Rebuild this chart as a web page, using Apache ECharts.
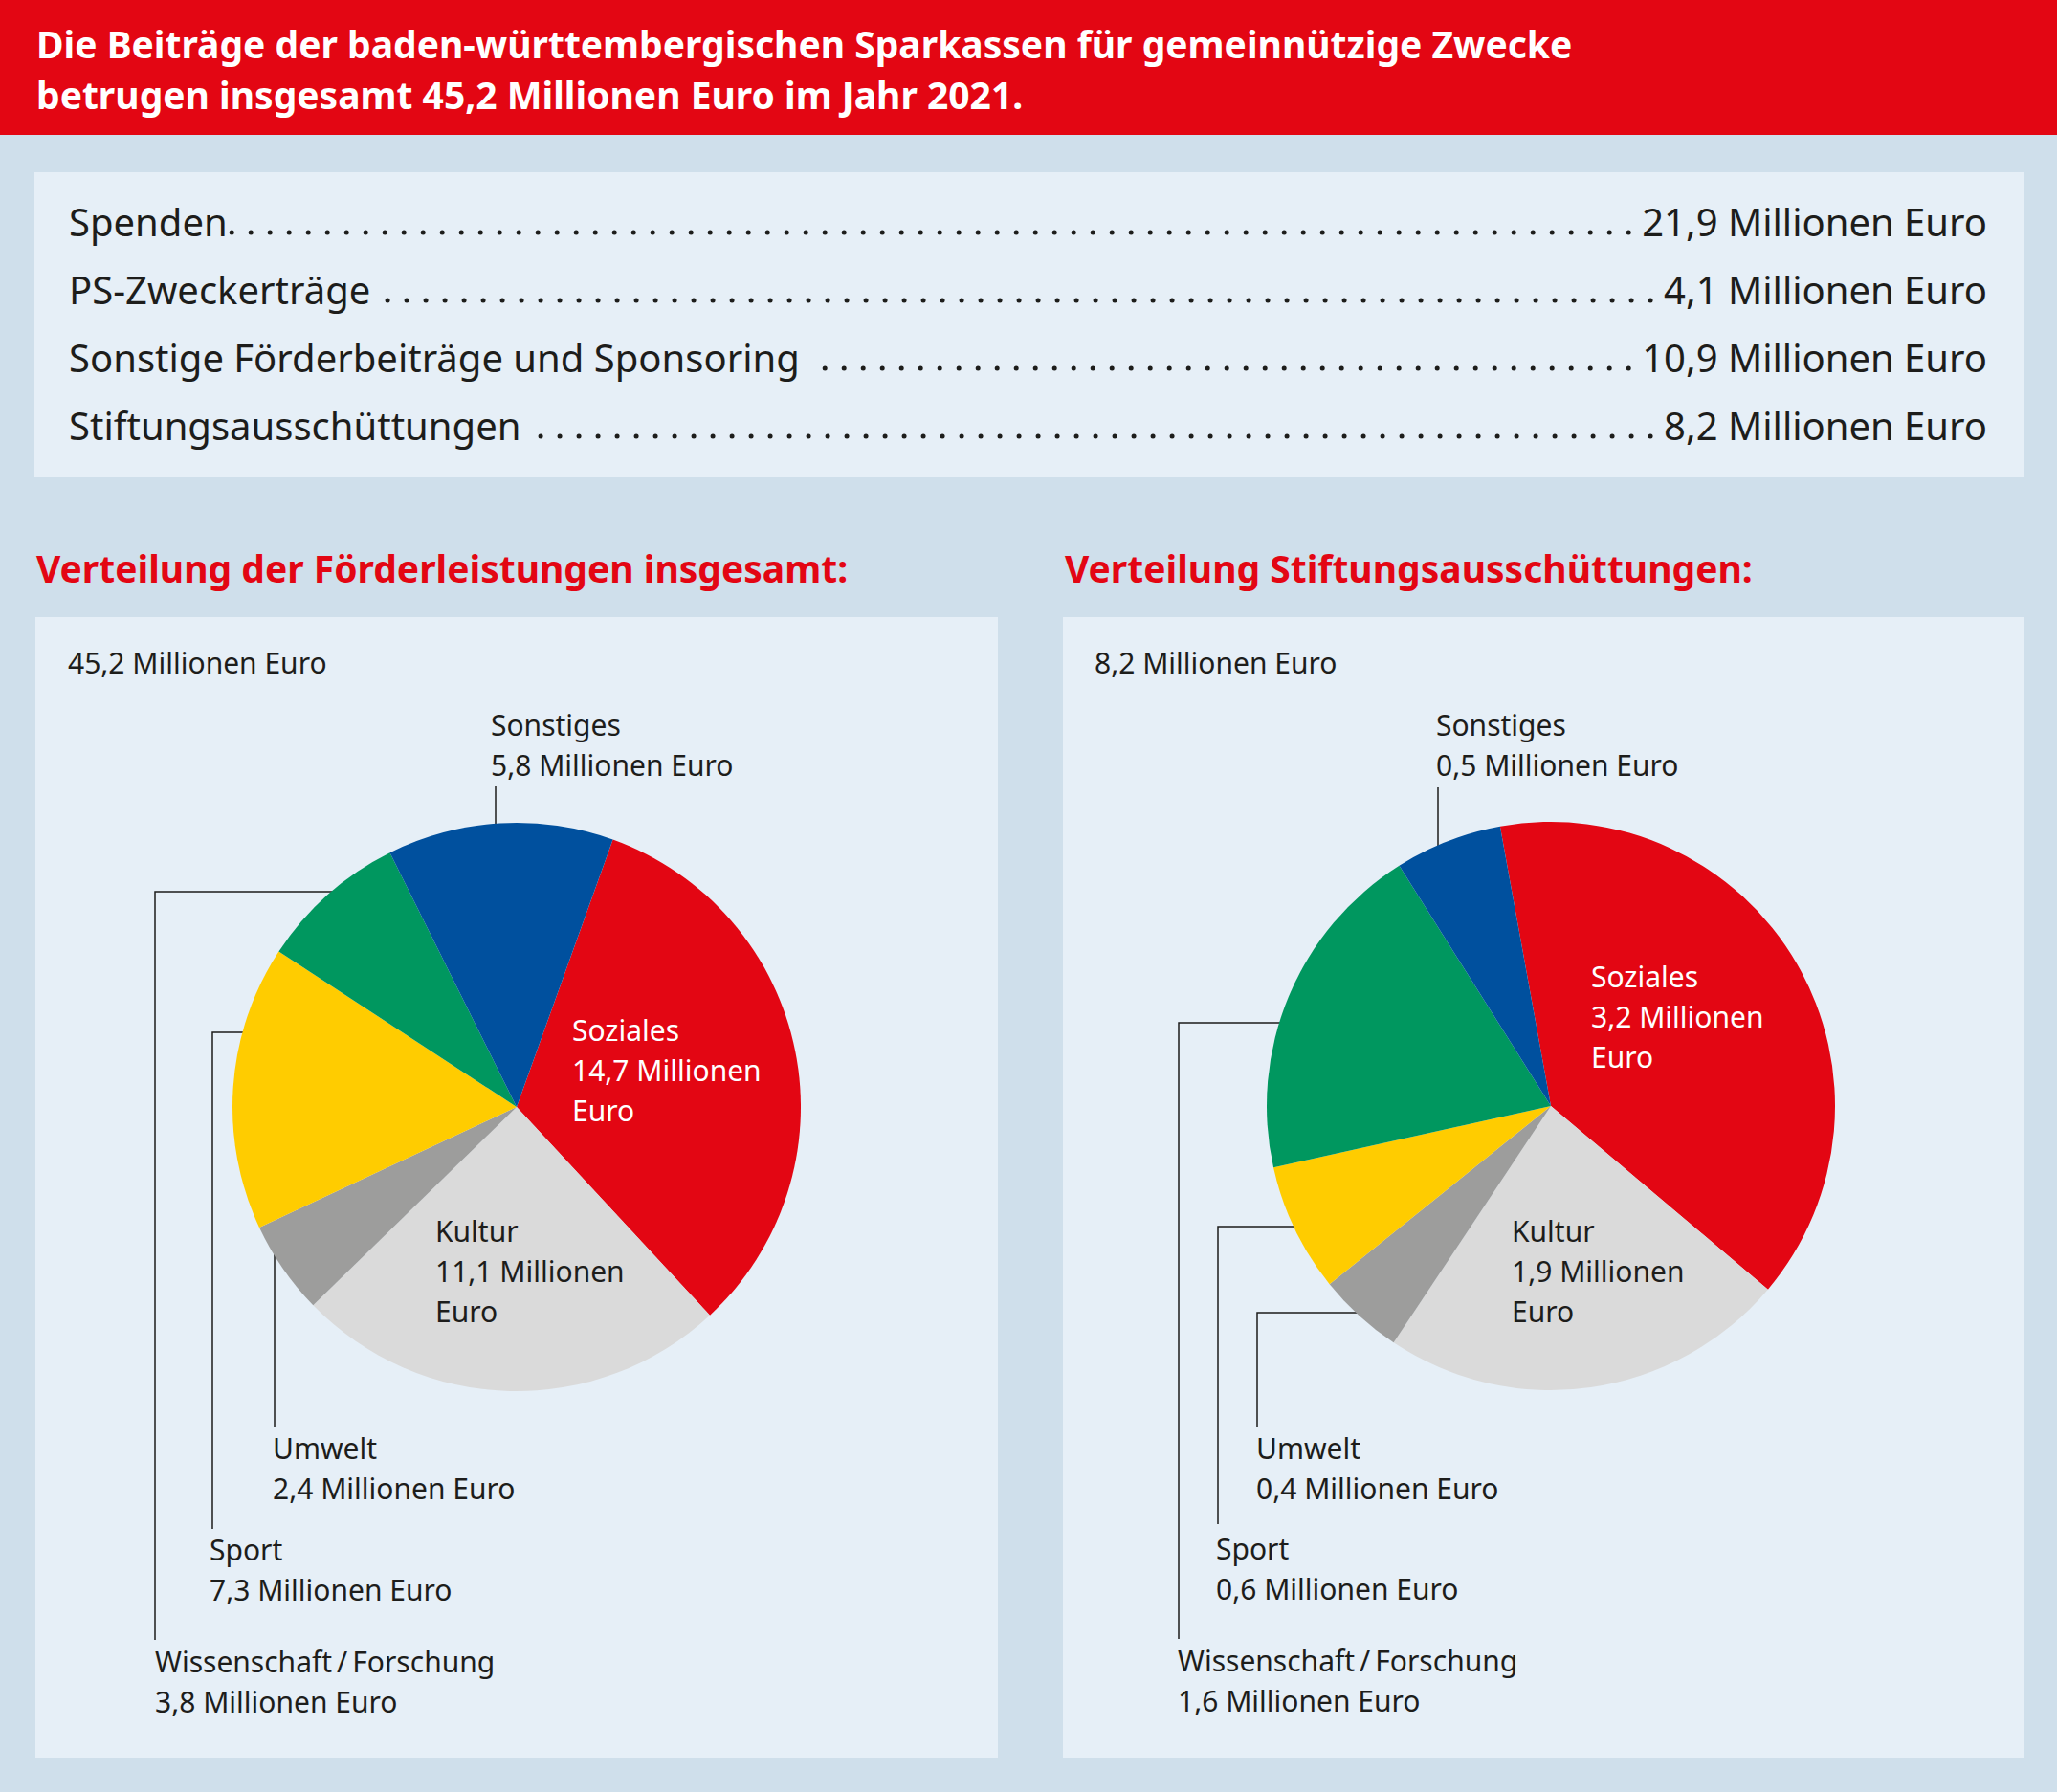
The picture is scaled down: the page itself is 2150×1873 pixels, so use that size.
<!DOCTYPE html>
<html>
<head>
<meta charset="utf-8">
<script src="https://cdn.jsdelivr.net/npm/echarts@6/dist/echarts.min.js"></script>
<style>
html,body{margin:0;padding:0;background:#cfdfeb;}
#chart{width:2150px;height:1873px;}
</style>
</head>
<body>
<div id="chart"></div>
<script>
// ---- data ----
const titleLines = [
  'Die Beiträge der baden-württembergischen Sparkassen für gemeinnützige Zwecke',
  'betrugen insgesamt 45,2 Millionen Euro im Jahr 2021.'
];
const beitragLabels = ['Spenden', 'PS-Zweckerträge', 'Sonstige Förderbeiträge und Sponsoring', 'Stiftungsausschüttungen'];
const beitragValues = [21.9, 4.1, 10.9, 8.2];
const sectionTitles = ['Verteilung der Förderleistungen insgesamt:', 'Verteilung Stiftungsausschüttungen:'];
const categories = ['Soziales', 'Kultur', 'Umwelt', 'Sport', 'Wissenschaft\u2009/\u2009Forschung', 'Sonstiges'];
const totalValues = [14.7, 11.1, 2.4, 7.3, 3.8, 5.8];
const stiftungValues = [3.2, 1.9, 0.4, 0.6, 1.6, 0.5];
const pieTotals = [45.2, 8.2];
const unit = 'Millionen Euro';

// ---- styles / layout ----
const FONT = "'Noto Sans', 'Open Sans', sans-serif";
const DARK = '#1d1d1b';
const RED = '#e30613';
const sliceColors = ['#e30613', '#dadada', '#9d9d9c', '#ffcc00', '#00975f', '#00509e'];
const insideIdx = [0, 1];
const fmt = v => v.toFixed(1).replace('.', ',');

const pieGeom = [
  {center: [540, 1157], radius: 297, startAngle: 70.2},
  {center: [1621, 1156], radius: 297, startAngle: 100.3}
];
// label anchor (left x, first-line center y) and leader lines
const labelPos = [
  [
    {x: 598, y: 1076},
    {x: 455, y: 1286},
    {x: 285, y: 1513, line: [[314, 1297], [287, 1297], [287, 1492]]},
    {x: 219, y: 1619, line: [[277, 1079], [222, 1079], [222, 1598]]},
    {x: 162, y: 1736, line: [[370, 932], [162, 932], [162, 1714]]},
    {x: 513, y: 757, line: [[518, 878], [518, 850], [518, 822]]}
  ],
  [
    {x: 1663, y: 1020},
    {x: 1580, y: 1286},
    {x: 1313, y: 1513, line: [[1440, 1372], [1314, 1372], [1314, 1491]]},
    {x: 1271, y: 1618, line: [[1378, 1282], [1273, 1282], [1273, 1593]]},
    {x: 1231, y: 1735, line: [[1364, 1069], [1232, 1069], [1232, 1713]]},
    {x: 1501, y: 757, line: [[1503, 908], [1503, 865], [1503, 823]]}
  ]
];
const LH = 42;

const chart = echarts.init(document.getElementById('chart'), null, {renderer: 'svg'});

// measure text
const mctx = document.createElement('canvas').getContext('2d');
function measure(text, font) { mctx.font = font; return mctx.measureText(text).width; }

const graphics = [];
// header
graphics.push({type: 'rect', z: 0, shape: {x: 0, y: 0, width: 2150, height: 141}, style: {fill: RED}});
titleLines.forEach((t, i) => graphics.push({
  type: 'text', z: 10, x: 38, y: 45 + i * 53,
  style: {text: t, fill: '#fff', font: 'bold 39px ' + FONT, textVerticalAlign: 'middle', textAlign: 'left'}
}));
// panels
graphics.push({type: 'rect', z: 0, shape: {x: 36, y: 180, width: 2079, height: 319}, style: {fill: '#e6eff7'}});
graphics.push({type: 'rect', z: 0, shape: {x: 37, y: 645, width: 1006, height: 1192}, style: {fill: '#e6eff7'}});
graphics.push({type: 'rect', z: 0, shape: {x: 1111, y: 645, width: 1004, height: 1192}, style: {fill: '#e6eff7'}});

// contribution list
const rowY = [231, 302, 373, 444];
const rowGap = [4, 14, 14, 4];
const rowFont = '40px ' + FONT;
beitragLabels.forEach((lab, i) => {
  const valText = fmt(beitragValues[i]) + ' ' + unit;
  graphics.push({type: 'text', z: 10, x: 72, y: rowY[i],
    style: {text: lab, fill: DARK, font: rowFont, textVerticalAlign: 'middle', textAlign: 'left'}});
  graphics.push({type: 'text', z: 10, x: 2077, y: rowY[i],
    style: {text: valText, fill: DARK, font: rowFont, textVerticalAlign: 'middle', textAlign: 'right'}});
  const x1 = 72 + measure(lab, rowFont) + rowGap[i];
  const x2 = 2077 - measure(valText, rowFont) - 14;
  const n = Math.floor((x2 - x1) / 20);
  const xs = x2 - n * 20;
  graphics.push({type: 'line', z: 10,
    shape: {x1: xs, y1: rowY[i] + 12, x2: x2 + 1, y2: rowY[i] + 12},
    style: {stroke: DARK, lineWidth: 5, lineCap: 'round', lineDash: [0.01, 19.99]}});
});

// section titles
[38, 1113].forEach((x, i) => graphics.push({type: 'text', z: 10, x: x, y: 593,
  style: {text: sectionTitles[i], fill: RED, font: 'bold 39px ' + FONT, textVerticalAlign: 'middle', textAlign: 'left'}}));
// pie totals
[71, 1144].forEach((x, i) => graphics.push({type: 'text', z: 10, x: x, y: 692,
  style: {text: fmt(pieTotals[i]) + ' ' + unit, fill: DARK, font: '30px ' + FONT, textVerticalAlign: 'middle', textAlign: 'left'}}));

function pieSeries(values, k) {
  return {
    type: 'pie',
    center: pieGeom[k].center,
    radius: pieGeom[k].radius,
    startAngle: pieGeom[k].startAngle,
    clockwise: true,
    avoidLabelOverlap: false,
    silent: true,
    animation: false,
    itemStyle: {borderWidth: 0},
    emphasis: {disabled: true},
    label: {
      show: true, position: 'outside', fontFamily: FONT, fontSize: 30, lineHeight: LH, color: DARK,
      formatter: p => insideIdx.includes(p.dataIndex)
        ? p.name + '\n' + fmt(p.value) + ' Millionen\nEuro'
        : p.name + '\n' + fmt(p.value) + ' ' + unit
    },
    labelLine: {show: true, lineStyle: {color: DARK, width: 1.5}},
    labelLayout: params => {
      const lp = labelPos[k][params.dataIndex];
      const o = {x: lp.x, y: lp.y - LH / 2, align: 'left', verticalAlign: 'top'};
      if (lp.line) o.labelLinePoints = lp.line;
      return o;
    },
    data: values.map((v, i) => ({
      name: categories[i], value: v,
      itemStyle: {color: sliceColors[i]},
      label: i === 0 ? {color: '#fff'} : {},
      labelLine: {show: !insideIdx.includes(i)}
    }))
  };
}

chart.setOption({
  backgroundColor: '#cfdfeb',
  animation: false,
  graphic: graphics,
  series: [pieSeries(totalValues, 0), pieSeries(stiftungValues, 1)]
});
</script>
</body>
</html>
